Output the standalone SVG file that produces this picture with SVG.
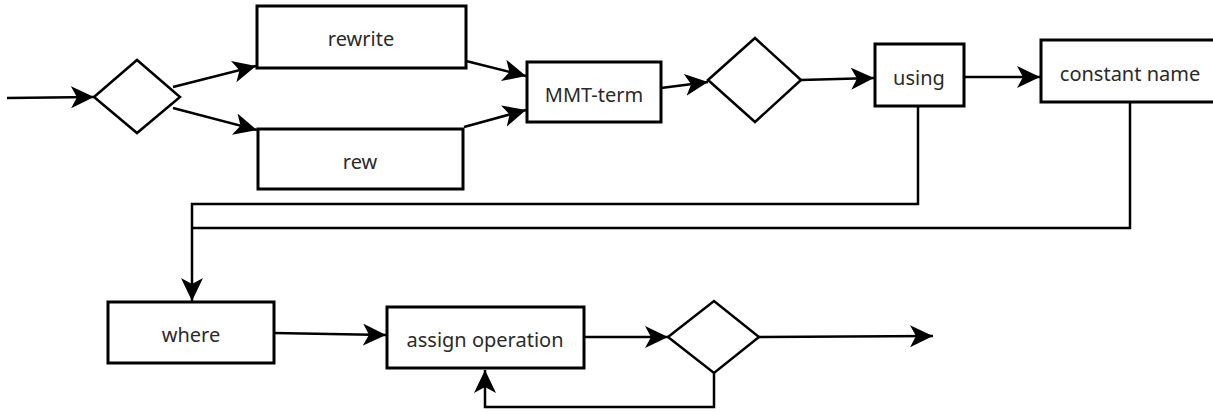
<svg xmlns="http://www.w3.org/2000/svg" width="1213" height="412" viewBox="0 0 1213 412">
<style>
.box{fill:#fff;stroke:#000;stroke-width:3}
.dia{fill:#fff;stroke:#000;stroke-width:2.5;stroke-linejoin:miter}
.lbl{font-family:"Noto Sans","Open Sans",sans-serif;font-size:20px;fill:#2a2a2a;text-anchor:middle;dominant-baseline:central}
.edge{fill:none;stroke:#000;stroke-width:2.5}
.arr{marker-end:url(#ah)}
</style>
<defs>
<marker id="ah" markerUnits="userSpaceOnUse" markerWidth="26" markerHeight="24" refX="23" refY="11" orient="auto">
<path d="M0,0 L23,11 L0,22 L6,11 z" fill="#000"/>
</marker>
</defs>
<rect width="1213" height="412" fill="#fff"/>
<g id="connectors">
<path class="edge arr" d="M7,98 L94,97"/>
<path class="edge arr" d="M173,87 L256,66"/>
<path class="edge arr" d="M173,108 L257,130"/>
<path class="edge arr" d="M466,61 L526,76"/>
<path class="edge arr" d="M464,127 L526,110"/>
<path class="edge arr" d="M661,88 L708,82"/>
<path class="edge arr" d="M801,80 L874,78"/>
<path class="edge arr" d="M964,77 L1040,77"/>
<path class="edge arr" d="M918,106 L918,204 L192,204 L192,301"/>
<path class="edge" d="M1130,102 L1130,228 L192,228"/>
<path class="edge arr" d="M274,333 L386,335"/>
<path class="edge arr" d="M584,337 L668,337"/>
<path class="edge arr" d="M759,337 L933,336"/>
<path class="edge arr" d="M714,373 L714,407 L485,407 L485,370"/>
</g>
<g id="start-decision"><polygon class="dia" points="94,97 137,60 180,97 137,133"/></g>
<g id="rewrite"><rect class="box" x="257" y="6" width="209" height="62"/><text class="lbl" x="361" y="38">rewrite</text></g>
<g id="rew"><rect class="box" x="258" y="129" width="205" height="60"/><text class="lbl" x="360" y="161">rew</text></g>
<g id="mmt-term"><rect class="box" x="527" y="62" width="134" height="60"/><text class="lbl" x="594" y="94">MMT-term</text></g>
<g id="term-decision"><polygon class="dia" points="708,80 755,38 801,80 755,122"/></g>
<g id="using"><rect class="box" x="875" y="44" width="89" height="62"/><text class="lbl" x="919" y="77">using</text></g>
<g id="constant-name"><rect class="box" x="1041" y="40" width="178" height="62"/><text class="lbl" x="1130" y="73">constant name</text></g>
<g id="where"><rect class="box" x="108" y="302" width="166" height="61"/><text class="lbl" x="191" y="334">where</text></g>
<g id="assign-operation"><rect class="box" x="387" y="307" width="197" height="61"/><text class="lbl" x="485" y="339">assign operation</text></g>
<g id="assign-decision"><polygon class="dia" points="668,337 714,301 759,337 714,373"/></g>
</svg>
